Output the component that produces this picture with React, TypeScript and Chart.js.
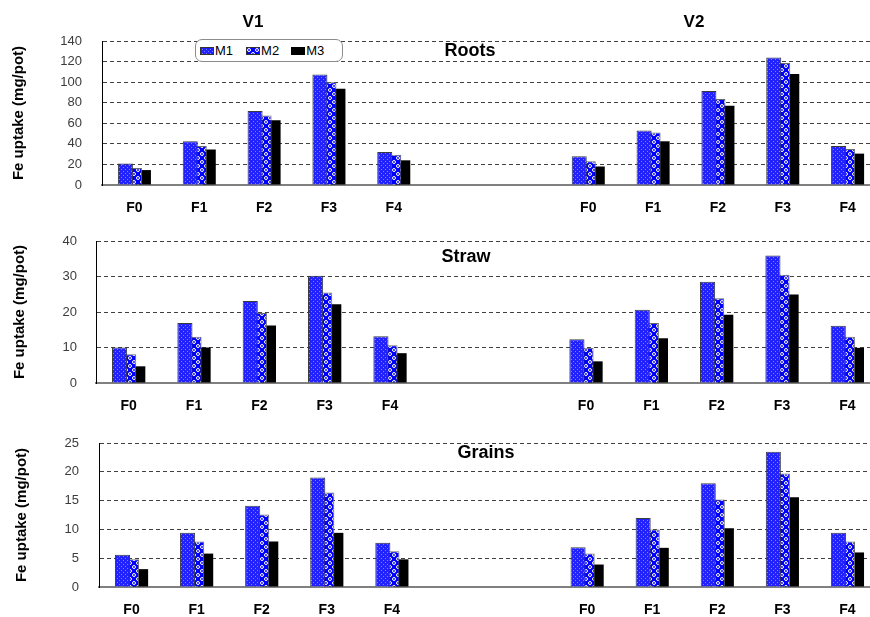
import React, { useEffect, useRef, useMemo } from 'react';
import { Chart, registerables } from 'chart.js';
Chart.register(...registerables);

// ---------- data ----------
const categories = ['F0', 'F1', 'F2', 'F3', 'F4', '', '', 'F0', 'F1', 'F2', 'F3', 'F4'];
const seriesNames = ['M1', 'M2', 'M3'];
const groupLabels = ['V1', 'V2'];
const panelTitles = ['Roots', 'Straw', 'Grains'];
const yAxisTitle = 'Fe uptake (mg/pot)';

// Roots
const rootsM1V1 = [21, 42.5, 72, 107.5, 32];
const rootsM1V2 = [28, 53, 91.5, 124, 38];
const rootsM2V1 = [16.5, 38, 67.5, 100, 29.5];
const rootsM2V2 = [23, 51, 83.5, 118.5, 35];
const rootsM3V1 = [14.5, 34.5, 63, 93.5, 24];
const rootsM3V2 = [18, 42.5, 77, 108, 30.5];
const rootsTicks = { max: 140, step: 20 };

// Straw
const strawM1V1 = [10, 16.9, 23.1, 30.2, 13.2];
const strawM1V2 = [12.3, 20.6, 28.5, 35.9, 16.1];
const strawM2V1 = [8.1, 13, 19.7, 25.5, 10.6];
const strawM2V2 = [9.9, 16.9, 23.9, 30.5, 13];
const strawM3V1 = [4.7, 10, 16.2, 22.2, 8.4];
const strawM3V2 = [6.1, 12.6, 19.2, 24.9, 9.9];
const strawTicks = { max: 40, step: 10 };

// Grains
const grainsM1V1 = [5.6, 9.4, 14.1, 19, 7.7];
const grainsM1V2 = [6.9, 12, 18, 23.5, 9.4];
const grainsM2V1 = [4.8, 7.9, 12.6, 16.4, 6.2];
const grainsM2V2 = [5.8, 10, 15.2, 19.7, 7.9];
const grainsM3V1 = [3.1, 5.8, 7.9, 9.4, 4.8];
const grainsM3V2 = [3.9, 6.8, 10.2, 15.6, 6.0];
const grainsTicks = { max: 25, step: 5 };

const join = (v1: number[], v2: number[]) => [...v1, null, null, ...v2];

// ---------- styles ----------
const FONT = "'Liberation Sans', Arial, sans-serif";
const CANVAS_W = 880;

function makeTile(kind: string): HTMLCanvasElement {
  const c = document.createElement('canvas');
  if (kind === 'M1') {
    c.width = 4; c.height = 4;
    const g = c.getContext('2d')!;
    g.fillStyle = '#2222ff';
    g.fillRect(0, 0, 4, 4);
    g.fillStyle = '#7f7fff';
    g.fillRect(1, 1, 1, 1);
    g.fillRect(3, 3, 1, 1);
  } else {
    c.width = 8; c.height = 8;
    const g = c.getContext('2d')!;
    g.fillStyle = '#0000ff';
    g.fillRect(0, 0, 8, 8);
    g.strokeStyle = '#ffffff';
    g.lineWidth = 1;
    for (const [x, y] of [[2, 2], [6, 6]]) {
      g.beginPath();
      g.arc(x, y, 1.5, 0, Math.PI * 2);
      g.stroke();
    }
  }
  return c;
}

interface PanelProps {
  top: number;
  height: number;
  areaTop: number;
  areaBottom: number;
  axisX: number;
  tickPad: number;
  titlePad: number;
  max: number;
  step: number;
  m1: (number | null)[];
  m2: (number | null)[];
  m3: (number | null)[];
}

function BarPanel(p: PanelProps) {
  const ref = useRef<HTMLCanvasElement>(null);
  useEffect(() => {
    const canvas = ref.current!;
    const ctx = canvas.getContext('2d')!;
    const pat1 = ctx.createPattern(makeTile('M1'), 'repeat');
    const pat2 = ctx.createPattern(makeTile('M2'), 'repeat');
    const common = { categoryPercentage: 0.417, barPercentage: 1.667 };
    const chart = new Chart(canvas, {
      type: 'bar',
      data: {
        labels: categories,
        datasets: [
          { label: seriesNames[0], data: p.m1, backgroundColor: pat1, borderColor: '#3a3a3a', borderWidth: 1, ...common },
          { label: seriesNames[1], data: p.m2, backgroundColor: pat2, borderColor: '#6a6a6a', borderWidth: 1, ...common },
          { label: seriesNames[2], data: p.m3, backgroundColor: '#000000', borderColor: '#000000', borderWidth: 0, ...common },
        ],
      } as any,
      options: {
        responsive: false,
        animation: false,
        events: [],
        layout: { padding: { top: p.areaTop - p.top, left: 0, right: 0, bottom: 0 } },
        plugins: { legend: { display: false }, tooltip: { enabled: false }, title: { display: false } },
        scales: {
          x: {
            grid: { display: false, drawTicks: false },
            border: { color: '#808080', width: 2 },
            ticks: {
              autoSkip: false,
              maxRotation: 0,
              padding: 15,
              color: '#000',
              font: { family: FONT, size: 14, weight: 'bold' },
            },
            afterFit: (s: any) => {
              s.height = p.top + p.height - p.areaBottom;
              s.paddingLeft = 0;
              s.paddingRight = 0;
            },
          },
          y: {
            min: 0,
            max: p.max,
            grid: {
              drawTicks: false,
              color: (c: any) => (c.tick && c.tick.value === 0 ? 'rgba(0,0,0,0)' : '#404040'),
              lineWidth: 1,
            },
            border: { color: '#000000', width: 1, dash: [4, 3] },
            ticks: {
              stepSize: p.step,
              padding: p.tickPad,
              color: '#3c3c3c',
              font: { family: FONT, size: 13 },
            },
            title: {
              display: true,
              text: yAxisTitle,
              color: '#000',
              font: { family: FONT, size: 15, weight: 'bold' },
              padding: { top: p.titlePad, bottom: 0 },
            },
            afterFit: (s: any) => {
              s.width = p.axisX;
              s.paddingTop = 0;
              s.paddingBottom = 0;
            },
          },
        },
      } as any,
    });
    return () => chart.destroy();
  }, []);
  return (
    <canvas
      ref={ref}
      width={CANVAS_W}
      height={p.height}
      style={{ position: 'absolute', left: 0, top: p.top, width: CANVAS_W, height: p.height }}
    />
  );
}

const textStyle = (left: number, top: number, size: number): React.CSSProperties => ({
  position: 'absolute',
  left,
  top,
  transform: 'translate(-50%, -50%)',
  font: `bold ${size}px ${FONT}`,
  color: '#000',
  whiteSpace: 'nowrap',
  lineHeight: 1,
});

export default function App() {
  const swatches = useMemo(() => {
    return [makeTile('M1').toDataURL(), makeTile('M2').toDataURL()];
  }, []);

  const legendItem = (i: number) => {
    const bg =
      i === 2
        ? { background: '#000' }
        : { backgroundImage: `url(${swatches[i]})`, backgroundRepeat: 'repeat' };
    return (
      <span key={i} style={{ display: 'inline-flex', alignItems: 'center', marginRight: i === 0 ? 13 : 12 }}>
        <span
          style={{
            display: 'inline-block',
            width: 14,
            height: 8,
            boxSizing: 'border-box',
            border: i === 2 ? '1px solid #000' : '1px solid #333',
            marginRight: 1,
            ...bg,
          }}
        />
        <span>{seriesNames[i]}</span>
      </span>
    );
  };

  return (
    <div
      style={{
        position: 'absolute',
        left: 0,
        top: 0,
        width: 870,
        height: 617,
        overflow: 'hidden',
        background: '#fff',
      }}
    >
      <BarPanel
        top={0} height={220} areaTop={41} areaBottom={185} axisX={102} tickPad={20} titlePad={10}
        max={rootsTicks.max} step={rootsTicks.step}
        m1={join(rootsM1V1, rootsM1V2)} m2={join(rootsM2V1, rootsM2V2)} m3={join(rootsM3V1, rootsM3V2)}
      />
      <BarPanel
        top={220} height={205} areaTop={241} areaBottom={383} axisX={96} tickPad={19} titlePad={11}
        max={strawTicks.max} step={strawTicks.step}
        m1={join(strawM1V1, strawM1V2)} m2={join(strawM2V1, strawM2V2)} m3={join(strawM3V1, strawM3V2)}
      />
      <BarPanel
        top={425} height={192} areaTop={443} areaBottom={587} axisX={99} tickPad={20} titlePad={13}
        max={grainsTicks.max} step={grainsTicks.step}
        m1={join(grainsM1V1, grainsM1V2)} m2={join(grainsM2V1, grainsM2V2)} m3={join(grainsM3V1, grainsM3V2)}
      />

      <div style={textStyle(253, 21, 17)}>{groupLabels[0]}</div>
      <div style={textStyle(694, 21, 17)}>{groupLabels[1]}</div>
      <div style={textStyle(470, 50, 18)}>{panelTitles[0]}</div>
      <div style={textStyle(466, 256, 18)}>{panelTitles[1]}</div>
      <div style={textStyle(486, 452, 18)}>{panelTitles[2]}</div>

      <div
        style={{
          position: 'absolute',
          left: 195,
          top: 39,
          width: 148,
          height: 23,
          boxSizing: 'border-box',
          border: '1px solid #8c8c8c',
          borderRadius: 7,
          background: '#fff',
          display: 'flex',
          alignItems: 'center',
          paddingLeft: 4,
          font: `13px ${FONT}`,
          color: '#000',
        }}
      >
        {[0, 1, 2].map(legendItem)}
      </div>
    </div>
  );
}
